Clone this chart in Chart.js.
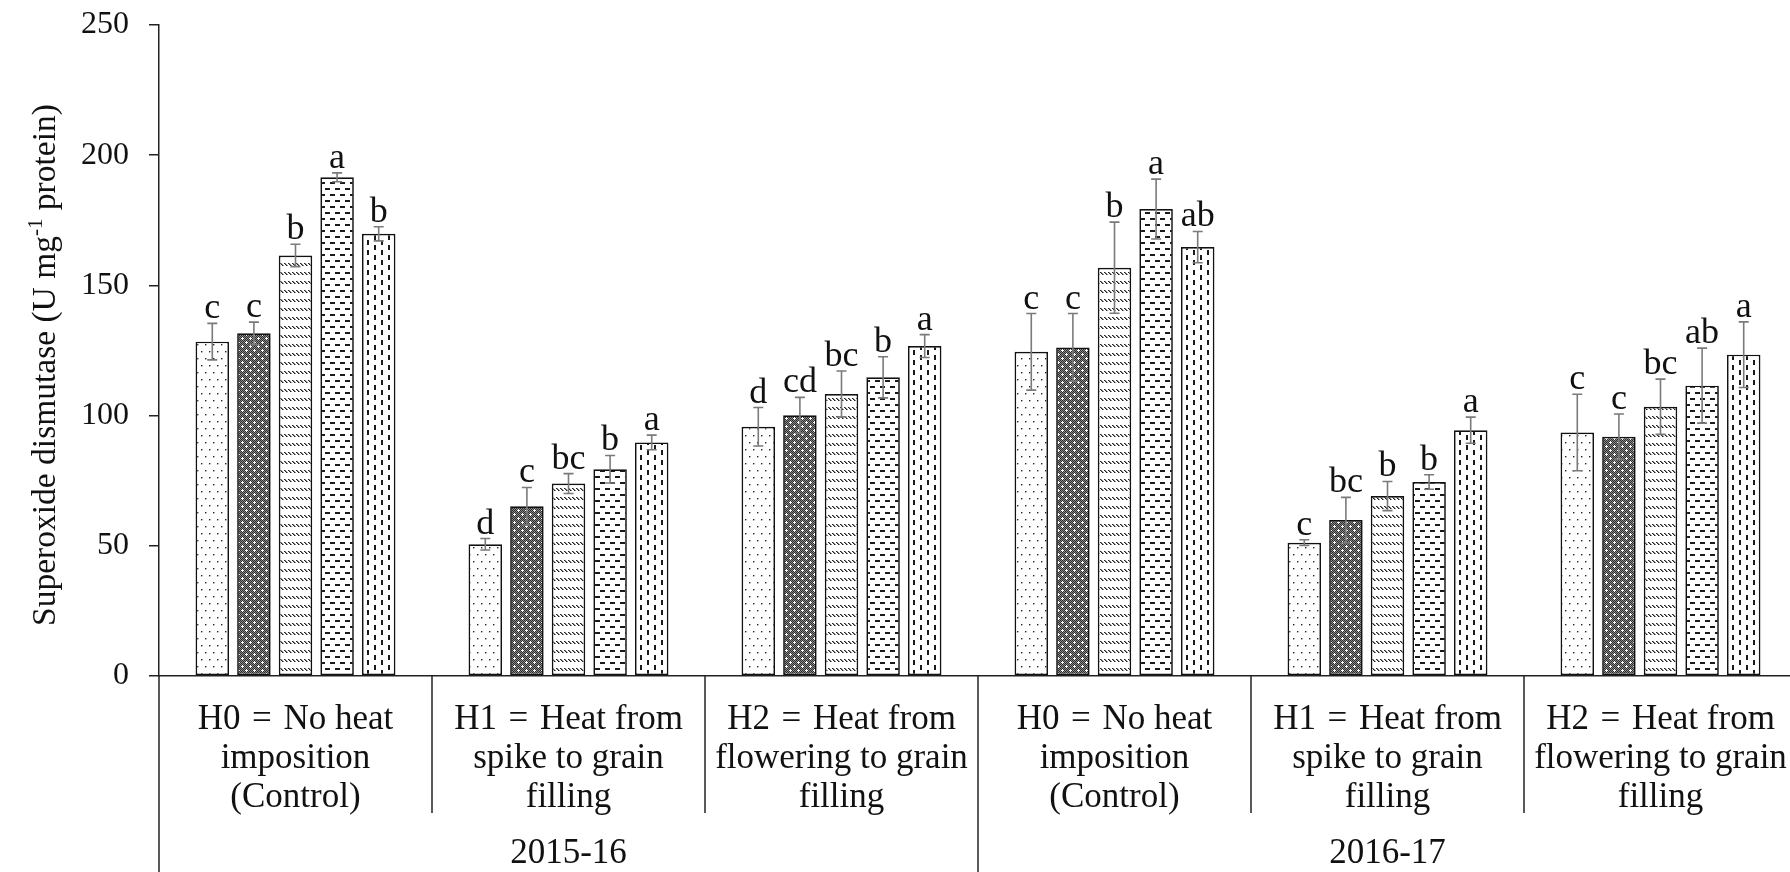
<!DOCTYPE html>
<html>
<head>
<meta charset="utf-8">
<script src="https://cdn.jsdelivr.net/npm/chart.js@4.4.1/dist/chart.umd.min.js"></script>
<style>
  html, body { margin: 0; padding: 0; background: #fff; overflow: hidden; }
  canvas { display: block; }
</style>
</head>
<body>
<canvas id="c" width="1800" height="872"></canvas>
<script>
// ---------- data ----------
const categoryLines = [
  ["H0 \u200A=\u200A No heat", "imposition", "(Control)"],
  ["H1 \u200A=\u200A Heat from", "spike to grain", "filling"],
  ["H2 \u200A=\u200A Heat from", "flowering to grain", "filling"],
  ["H0 \u200A=\u200A No heat", "imposition", "(Control)"],
  ["H1 \u200A=\u200A Heat from", "spike to grain", "filling"],
  ["H2 \u200A=\u200A Heat from", "flowering to grain", "filling"]
];
const seasons = ["2015-16", "2016-17"];
const seasonGroups = [[0, 1, 2], [3, 4, 5]];
const yTicks = [0, 50, 100, 150, 200, 250];

const series1 = [128.4, 50.6, 95.7, 124.5, 51.2, 93.5];
const series2 = [131.6, 65.2, 100.1, 126.2, 59.9, 91.9];
const series3 = [161.5, 73.9, 108.3, 156.8, 69.1, 103.4];
const series4 = [191.5, 79.4, 114.7, 179.3, 74.5, 111.5];
const series5 = [169.8, 89.7, 126.7, 164.7, 94.4, 123.4];

const errors1 = [7.0, 2.2, 7.4, 14.7, 1.1, 14.7];
const errors2 = [4.3, 7.2, 6.9, 13.0, 8.7, 8.7];
const errors3 = [4.3, 3.8, 8.8, 17.5, 5.6, 10.6];
const errors4 = [1.7, 5.3, 7.9, 11.5, 2.8, 14.4];
const errors5 = [2.7, 2.8, 4.4, 6.0, 5.0, 12.6];

const letters1 = ["c", "d", "d", "c", "c", "c"];
const letters2 = ["c", "c", "cd", "c", "bc", "c"];
const letters3 = ["b", "bc", "bc", "b", "b", "bc"];
const letters4 = ["a", "b", "b", "a", "b", "ab"];
const letters5 = ["b", "a", "a", "ab", "a", "a"];

const yTitleMain = "Superoxide dismutase (U mg";
const yTitleSup = "-1";
const yTitleEnd = " protein)";

// ---------- styling ----------
const FONT = "'Liberation Serif', 'Times New Roman', serif";
const canvas = document.getElementById('c');
const ctx0 = canvas.getContext('2d');

function makePattern(w, h, draw) {
  const c = document.createElement('canvas');
  c.width = w; c.height = h;
  const g = c.getContext('2d');
  g.fillStyle = '#fff';
  g.fillRect(0, 0, w, h);
  draw(g);
  return ctx0.createPattern(c, 'repeat');
}
const patDots = makePattern(8, 14, g => {
  g.fillStyle = '#222';
  g.fillRect(1, 1, 1.4, 1.4);
  g.fillRect(5, 8, 1.4, 1.4);
});
const patDark = makePattern(8, 8, g => {
  for (let y = 0; y < 8; y++) for (let x = 0; x < 8; x++) {
    g.fillStyle = ((x + y) % 2 === 0) ? '#2e2e2e' : '#888';
    g.fillRect(x, y, 1, 1);
  }
  g.fillStyle = '#fff';
  [[2, 2], [6, 6]].forEach(([cx, cy]) => {
    g.fillRect(cx, cy, 1, 1);
    g.fillRect(cx - 1, cy, 1, 1); g.fillRect(cx + 1, cy, 1, 1);
    g.fillRect(cx, cy - 1, 1, 1); g.fillRect(cx, cy + 1, 1, 1);
  });
});
const patDiag = makePattern(4, 9, g => {
  g.fillStyle = '#222';
  g.fillRect(0, 2, 1, 1); g.fillRect(1, 3, 1, 1); g.fillRect(2, 4, 1, 1);
  g.fillStyle = '#888';
  g.fillRect(1, 2, 1, 1); g.fillRect(2, 3, 1, 1); g.fillRect(3, 4, 1, 1);
});
const patHoriz = makePattern(10, 12, g => {
  g.fillStyle = '#1a1a1a';
  g.fillRect(0, 2, 5, 2);
  g.fillRect(5, 8, 5, 2);
});
const patVert = makePattern(14, 10, g => {
  g.fillStyle = '#1a1a1a';
  g.fillRect(3, 0, 2, 5);
  g.fillRect(10, 5, 2, 5);
});

// ---------- plugin: error bars, letters, multi-level x labels, y title ----------
const overlay = {
  id: 'overlay',
  afterDatasetsDraw(chart) {
    const ctx = chart.ctx, ys = chart.scales.y;
    ctx.save();
    chart.data.datasets.forEach((ds, i) => {
      const meta = chart.getDatasetMeta(i);
      meta.data.forEach((bar, j) => {
        const v = ds.data[j], e = ds.errors[j];
        const top = ys.getPixelForValue(v + e), bot = ys.getPixelForValue(v - e);
        ctx.strokeStyle = '#7a7a7a';
        ctx.lineWidth = 1.6;
        ctx.beginPath();
        ctx.moveTo(bar.x, top); ctx.lineTo(bar.x, bot);
        ctx.moveTo(bar.x - 5, top); ctx.lineTo(bar.x + 5, top);
        ctx.moveTo(bar.x - 5, bot); ctx.lineTo(bar.x + 5, bot);
        ctx.stroke();
        ctx.fillStyle = '#111';
        ctx.font = '36px ' + FONT;
        ctx.textAlign = 'center';
        ctx.textBaseline = 'alphabetic';
        ctx.fillText(ds.letters[j], bar.x, top - 5);
      });
    });
    ctx.restore();
  },
  afterDraw(chart) {
    const ctx = chart.ctx, xs = chart.scales.x, area = chart.chartArea;
    const H = chart.height;
    ctx.save();
    ctx.strokeStyle = '#222';
    ctx.lineWidth = 1.5;
    // y axis continues below the x axis
    ctx.beginPath();
    ctx.moveTo(area.left, area.bottom); ctx.lineTo(area.left, H);
    ctx.stroke();
    // separators between categories
    const n = categoryLines.length;
    for (let i = 0; i < n - 1; i++) {
      const bx = (xs.getPixelForValue(i) + xs.getPixelForValue(i + 1)) / 2;
      const isSeason = seasonGroups[0][seasonGroups[0].length - 1] === i;
      ctx.beginPath();
      ctx.moveTo(bx, area.bottom);
      ctx.lineTo(bx, isSeason ? H : area.bottom + 137);
      ctx.stroke();
    }
    // category labels
    ctx.fillStyle = '#111';
    ctx.textAlign = 'center';
    ctx.textBaseline = 'middle';
    ctx.font = '35px ' + FONT;
    categoryLines.forEach((lines, i) => {
      const cx = xs.getPixelForValue(i);
      lines.forEach((t, k) => ctx.fillText(t, cx, area.bottom + 44 + k * 38.8));
    });
    // season labels
    seasons.forEach((s, k) => {
      const g = seasonGroups[k];
      const cx = (xs.getPixelForValue(g[0]) + xs.getPixelForValue(g[g.length - 1])) / 2;
      ctx.fillText(s, cx, area.bottom + 178);
    });
    // y title
    ctx.translate(43, 365);
    ctx.rotate(-Math.PI / 2);
    const fMain = '33.5px ' + FONT, fSup = '21px ' + FONT;
    ctx.font = fMain; const w1 = ctx.measureText(yTitleMain).width;
    const w3 = ctx.measureText(yTitleEnd).width;
    ctx.font = fSup; const w2 = ctx.measureText(yTitleSup).width;
    let x0 = -(w1 + w2 + w3) / 2;
    ctx.textAlign = 'left';
    ctx.textBaseline = 'alphabetic';
    ctx.font = fMain; ctx.fillText(yTitleMain, x0, 12);
    ctx.font = fSup; ctx.fillText(yTitleSup, x0 + w1, -1);
    ctx.font = fMain; ctx.fillText(yTitleEnd, x0 + w1 + w2, 12);
    ctx.restore();
  }
};

const mk = (data, errors, letters, pat) => ({
  data, errors, letters,
  backgroundColor: pat,
  borderColor: '#111',
  borderWidth: 1.7,
  borderSkipped: false,
  barPercentage: 0.805,
  categoryPercentage: 0.762
});

new Chart(canvas, {
  type: 'bar',
  data: {
    labels: categoryLines.map(l => l.join(' ')),
    datasets: [
      mk(series1, errors1, letters1, patDots),
      mk(series2, errors2, letters2, patDark),
      mk(series3, errors3, letters3, patDiag),
      mk(series4, errors4, letters4, patHoriz),
      mk(series5, errors5, letters5, patVert)
    ]
  },
  options: {
    responsive: false,
    animation: false,
    events: [],
    layout: { padding: { top: 25, right: 3, left: 0, bottom: 0 } },
    plugins: { legend: { display: false }, tooltip: { enabled: false } },
    scales: {
      x: {
        ticks: { display: false },
        grid: { display: false },
        border: { display: true, color: '#222', width: 1.5 },
        afterFit: s => { s.height = 196; s.paddingLeft = 0; s.paddingRight = 0; }
      },
      y: {
        min: 0, max: 250,
        afterBuildTicks: s => { s.ticks = yTicks.map(v => ({ value: v })); },
        ticks: { color: '#111', font: { family: FONT, size: 32 }, padding: 20 },
        grid: { drawOnChartArea: false, drawTicks: true, tickLength: 10, color: '#222', lineWidth: 1.5 },
        border: { display: true, color: '#222', width: 1.5 },
        afterFit: s => { s.width = 159; s.paddingTop = 0; s.paddingBottom = 0; }
      }
    }
  },
  plugins: [overlay]
});
</script>
</body>
</html>
